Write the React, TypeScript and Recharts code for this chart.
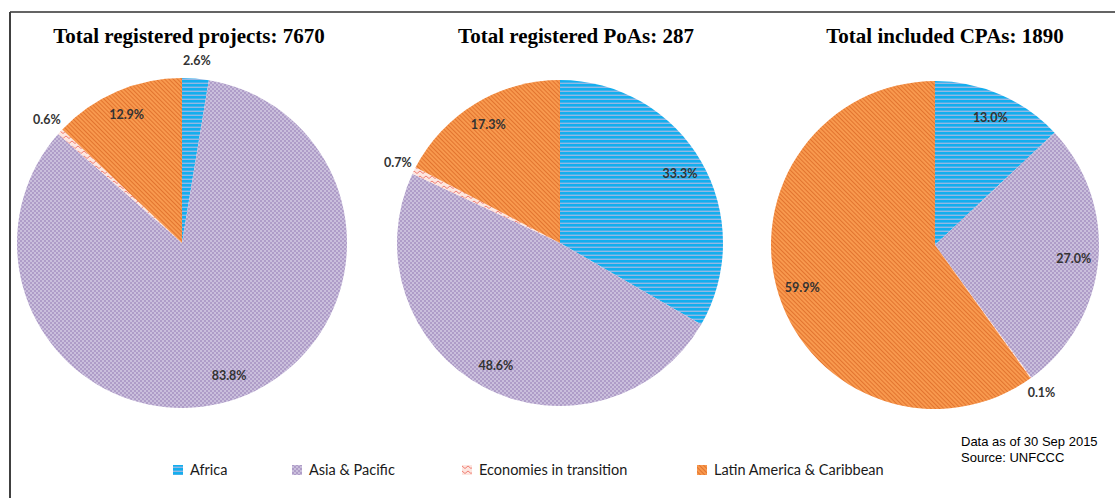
import React from 'react';
import { PieChart, Pie, Cell } from 'recharts';

const regions = ['Africa', 'Asia & Pacific', 'Economies in transition', 'Latin America & Caribbean'];
const projectShares = [2.6, 83.8, 0.6, 12.9];
const poaShares = [33.3, 48.6, 0.7, 17.3];
const cpaShares = [13.0, 27.0, 0.1, 59.9];
const chartTitles = ['Total registered projects: 7670', 'Total registered PoAs: 287', 'Total included CPAs: 1890'];
const noteLines = ['Data as of 30 Sep 2015', 'Source: UNFCCC'];

const patternIds = ['pAfrica', 'pAsia', 'pEit', 'pLac'];

const toData = (vals: number[]) => regions.map((name, i) => ({ name, value: vals[i] }));

const pies = [
  { data: toData(projectShares), cx: 182, cy: 243, r: 165, tx: 189 },
  { data: toData(poaShares), cx: 560, cy: 243, r: 163, tx: 576 },
  { data: toData(cpaShares), cx: 935, cy: 245, r: 164, tx: 945 },
];

const RAD = Math.PI / 180;

const renderLabel = (props: any) => {
  const { cx, cy, midAngle, outerRadius, value } = props;
  const outside = value < 5;
  const d = outside ? outerRadius + 18 : outerRadius * 0.85;
  const x = cx + d * Math.cos(-midAngle * RAD);
  const y = cy + d * Math.sin(-midAngle * RAD);
  return (
    <text
      x={x}
      y={y}
      textAnchor="middle"
      dominantBaseline="central"
      fontFamily="Lato, 'Noto Sans', sans-serif"
      fontWeight={700}
      fontSize={12.5}
      fill="#333333"
    >
      {value.toFixed(1) + '%'}
    </text>
  );
};

const legendX = [173, 292, 462, 697];

export default function App() {
  return (
    <div style={{ position: 'absolute', left: 0, top: 0, width: 1115, height: 498, background: '#fff', overflow: 'hidden' }}>
      <svg width={0} height={0} style={{ position: 'absolute' }}>
        <defs>
          <pattern id="pAfrica" width="4" height="4" patternUnits="userSpaceOnUse">
            <rect width="4" height="4" fill="#93B8E4" />
            <rect y="0" width="4" height="2.6" fill="#14AEEE" />
          </pattern>
          <pattern id="pAsia" width="4" height="4" patternUnits="userSpaceOnUse">
            <rect width="4" height="4" fill="#CABFDC" />
            <rect x="0" y="0" width="2" height="2" fill="#AF9DC8" />
            <rect x="2" y="2" width="2" height="2" fill="#AF9DC8" />
          </pattern>
          <pattern id="pEit" width="6" height="5" patternUnits="userSpaceOnUse">
            <rect width="6" height="5" fill="#FDE6E0" />
            <path d="M0,1 L3,3.5 L6,1" stroke="#F07F75" strokeWidth="1" fill="none" />
          </pattern>
          <pattern id="pLac" width="3" height="3" patternUnits="userSpaceOnUse" patternTransform="rotate(-45)">
            <rect width="3" height="3" fill="#F8994E" />
            <rect x="0" y="0" width="1" height="3" fill="#E2742F" />
          </pattern>
        </defs>
      </svg>
      <PieChart width={1115} height={498} style={{ position: 'absolute', left: 0, top: 0 }} margin={{ top: 0, right: 0, bottom: 0, left: 0 }}>
        {pies.map((p, pi) => (
          <Pie
            key={pi}
            data={p.data}
            dataKey="value"
            nameKey="name"
            cx={p.cx}
            cy={p.cy}
            outerRadius={p.r}
            startAngle={90}
            endAngle={-270}
            stroke="none"
            label={renderLabel}
            labelLine={false}
            isAnimationActive={false}
          >
            {p.data.map((_, i) => (
              <Cell key={i} fill={`url(#${patternIds[i]})`} />
            ))}
          </Pie>
        ))}
      </PieChart>
      <svg width={1115} height={498} style={{ position: 'absolute', left: 0, top: 0, pointerEvents: 'none' }}>
        <line x1={10} y1={12} x2={1115} y2={12} stroke="#303030" strokeWidth={1.5} />
        <line x1={10} y1={12} x2={10} y2={498} stroke="#404040" strokeWidth={2} />
        {chartTitles.map((t, i) => (
          <text
            key={i}
            x={pies[i].tx}
            y={43}
            textAnchor="middle"
            fontFamily="'Liberation Serif', 'Times New Roman', serif"
            fontWeight={700}
            fontSize={21}
            fill="#000"
          >
            {t}
          </text>
        ))}
        {regions.map((r, i) => (
          <g key={r}>
            <rect x={legendX[i]} y={465} width={10} height={10} fill={`url(#${patternIds[i]})`} />
            <text x={legendX[i] + 17} y={475} fontFamily="Lato, 'Noto Sans', sans-serif" fontSize={14.5} fill="#1a1a1a">
              {r}
            </text>
          </g>
        ))}
        {noteLines.map((t, i) => (
          <text key={t} x={961} y={446 + i * 16} fontFamily="'Liberation Sans', Arial, sans-serif" fontSize={13} fill="#000">
            {t}
          </text>
        ))}
      </svg>
    </div>
  );
}
